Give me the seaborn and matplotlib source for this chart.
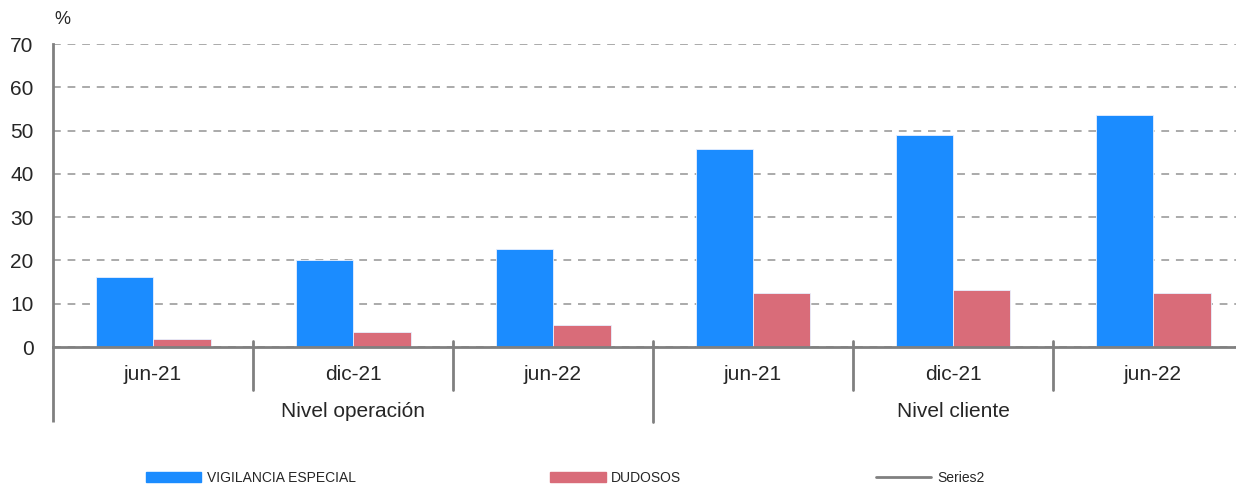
import matplotlib
matplotlib.use("Agg")
import matplotlib.pyplot as plt
import matplotlib.transforms as mtransforms
from matplotlib.lines import Line2D
import seaborn as sns
import pandas as pd

periods = ["jun-21", "dic-21", "jun-22", "jun-21", "dic-21", "jun-22"]
groups = ["Nivel operación", "Nivel cliente"]
vigilancia = [16.2, 20.1, 22.6, 45.7, 49.0, 53.6]
dudosos = [1.8, 3.5, 5.1, 12.5, 13.2, 12.5]
series_names = ["VIGILANCIA ESPECIAL", "DUDOSOS", "Series2"]
yticks = [0, 10, 20, 30, 40, 50, 60, 70]

sns.set_theme(style="white")
plt.rcParams["font.family"] = ["Liberation Sans", "DejaVu Sans"]

idx = list(range(len(periods)))
df = pd.DataFrame({
    "pos": idx * 2,
    "value": vigilancia + dudosos,
    "serie": [series_names[0]] * len(idx) + [series_names[1]] * len(idx),
})

fig = plt.figure(figsize=(12.36, 4.86), dpi=100)
ax = fig.add_axes([53 / 1236, 1 - 347 / 486, 1200 / 1236, (347 - 44) / 486])

colors = ["#1B8CFF", "#D96C79"]
sns.barplot(data=df, x="pos", y="value", hue="serie", order=idx,
            hue_order=series_names[:2], palette=colors, width=0.575,
            gap=0, saturation=1, ax=ax, legend=False, errorbar=None,
            linewidth=0.6, edgecolor="#E8F0FF")

ax.set_ylim(0, 70)
ax.set_xlim(-0.5, len(idx) - 0.5)
ax.set_yticks(yticks)
ax.set_yticklabels([str(t) for t in yticks], fontsize=15)
ax.tick_params(axis="y", length=0, pad=14)
ax.yaxis.grid(True, linestyle=(0, (4, 3.5)), color="#AAAAAA", linewidth=1.4)
ax.set_axisbelow(True)
ax.set_xlabel("")
ax.set_ylabel("")

for s in ["top", "right"]:
    ax.spines[s].set_visible(False)
ax.spines["left"].set_color("#808080")
ax.spines["left"].set_linewidth(2)
ax.spines["bottom"].set_color("#808080")
ax.spines["bottom"].set_linewidth(2)

ax.set_xticks(idx)
ax.set_xticklabels(periods, fontsize=15)
ax.tick_params(axis="x", length=0, pad=13)

trans = mtransforms.blended_transform_factory(ax.transData, ax.transAxes)
def yax(px):
    return -px / 303

# category separators
for i in range(1, len(idx)):
    x = i - 0.5
    bottom = yax(75) if i == 3 else yax(43)
    ax.plot([x, x], [yax(-6), bottom], transform=trans, color="#808080",
            lw=2, clip_on=False)
# left extension
ax.plot([-0.5, -0.5], [0, yax(75)], transform=trans, color="#808080",
        lw=2, clip_on=False, solid_capstyle="butt")

for g, name in enumerate(groups):
    ax.text(g * 3 + 1, yax(64), name, transform=trans, ha="center",
            va="center", fontsize=15)

fig.text(62 / 1236, 1 - 20 / 486, "%", fontsize=13, ha="center", va="center")

handles = [
    plt.Rectangle((0, 0), 1, 1, color=colors[0]),
    plt.Rectangle((0, 0), 1, 1, color=colors[1]),
    Line2D([0], [0], color="#808080", lw=2),
]
fig.legend(handles, series_names, loc="center left",
           bbox_to_anchor=(133 / 1236, 1 - 478 / 486), ncol=3, frameon=False,
           fontsize=10, handlelength=4.0, handleheight=0.75,
           handletextpad=0.4, columnspacing=14.0)

fig.savefig("out.png", dpi=100)
